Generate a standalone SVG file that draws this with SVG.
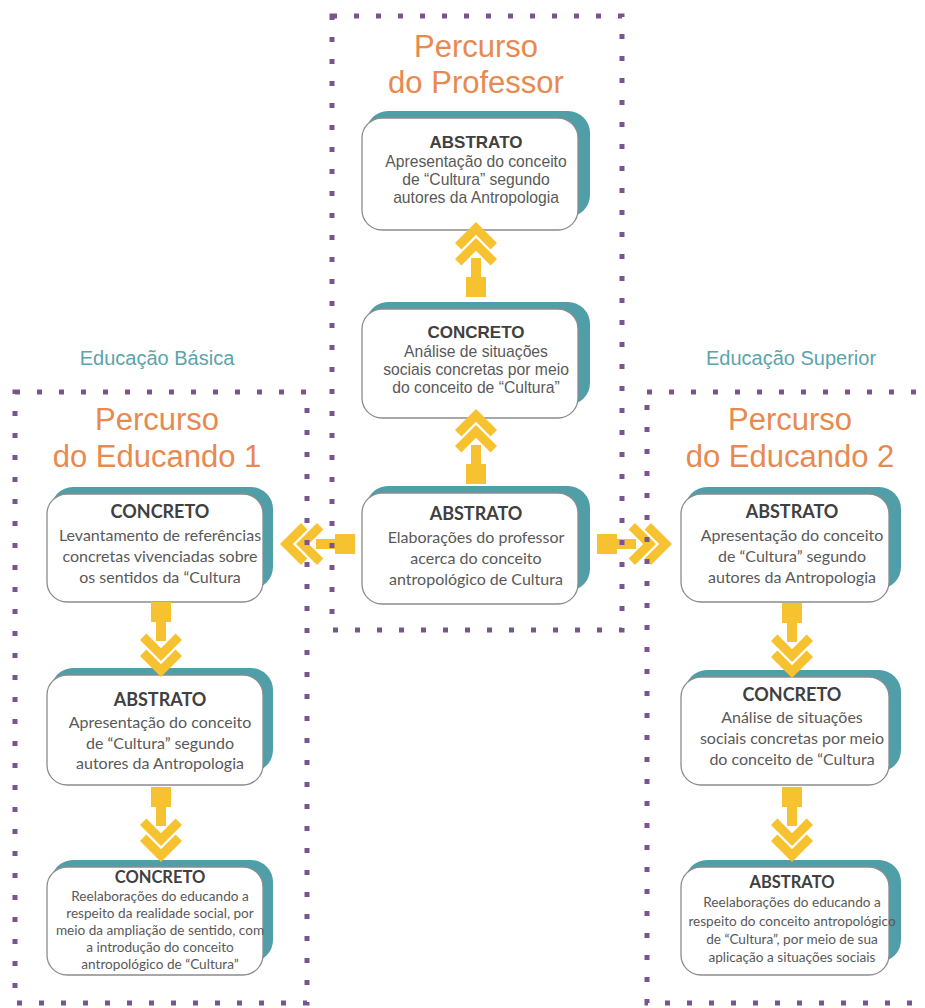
<svg xmlns="http://www.w3.org/2000/svg" xmlns:xlink="http://www.w3.org/1999/xlink" width="925" height="1008" viewBox="0 0 925 1008">
<style>
.bg{fill:#ffffff}
.teal{fill:#4f9ea8}
.card{fill:#ffffff;stroke:#8c8c8c;stroke-width:1.3}
.frame{fill:none;stroke:#7a5490;stroke-width:5;stroke-dasharray:5 17}
.title{font-family:"Liberation Sans",Arial,sans-serif;font-size:31px;fill:#e8894f;text-anchor:middle}
.label{font-family:"Liberation Sans",Arial,sans-serif;font-size:20px;fill:#5ba4ad;text-anchor:middle}
.ha{font-family:"Liberation Sans",Arial,sans-serif;font-size:17px;font-weight:bold;fill:#404040;text-anchor:middle}
.ta{font-family:"Liberation Sans",Arial,sans-serif;font-size:15.7px;fill:#595959;text-anchor:middle}
.hc{font-family:Lato,"Open Sans",sans-serif;font-size:18px;font-weight:bold;fill:#404040;text-anchor:middle}
.tc{font-family:Lato,"Open Sans",sans-serif;font-size:16px;fill:#595959;text-anchor:middle}
.hs{font-family:Lato,"Open Sans",sans-serif;font-size:16.5px;font-weight:bold;fill:#404040;text-anchor:middle}
.ts{font-family:Lato,"Open Sans",sans-serif;font-size:13.6px;fill:#595959;text-anchor:middle}
.arrow{fill:#f6c230}
</style>
<defs>
<g id="arr">
<polygon class="arrow" points="0,0 21,21 14.6,27.4 0,12.8 -14.6,27.4 -21,21"/>
<polygon class="arrow" points="0,16 21,37 14.6,43.4 0,28.8 -14.6,43.4 -21,37"/>
<rect class="arrow" x="-5" y="36" width="10" height="21"/>
<rect class="arrow" x="-10" y="55" width="20" height="20"/>
</g>
</defs>
<rect class="bg" x="0" y="0" width="925" height="1008"/>

<g id="titles">
<text class="title" x="476" y="57">Percurso</text>
<text class="title" x="476" y="93">do Professor</text>
<text class="title" x="157" y="430">Percurso</text>
<text class="title" x="157" y="467">do Educando 1</text>
<text class="title" x="790" y="430">Percurso</text>
<text class="title" x="790" y="467">do Educando 2</text>
<text class="label" x="157" y="365">Educação Básica</text>
<text class="label" x="791" y="365">Educação Superior</text>
</g>

<g id="node-p1">
<rect class="teal" x="366" y="111" width="224" height="106" rx="22"/>
<rect class="card" x="362" y="118" width="216" height="112" rx="20"/>
<text class="ha" x="476" y="148">ABSTRATO</text>
<text class="ta" x="476" y="167">Apresentação do conceito</text>
<text class="ta" x="476" y="185">de “Cultura” segundo</text>
<text class="ta" x="476" y="203">autores da Antropologia</text>
</g>

<g id="node-p2">
<rect class="teal" x="366" y="302" width="224" height="103" rx="22"/>
<rect class="card" x="362" y="309" width="216" height="109" rx="20"/>
<text class="ha" x="476" y="338">CONCRETO</text>
<text class="ta" x="476" y="357">Análise de situações</text>
<text class="ta" x="476" y="375">sociais concretas por meio</text>
<text class="ta" x="476" y="393">do conceito de “Cultura”</text>
</g>

<g id="node-p3">
<rect class="teal" x="366" y="486" width="224" height="105" rx="22"/>
<rect class="card" x="362" y="493" width="216" height="111" rx="20"/>
<text class="hc" x="476" y="520">ABSTRATO</text>
<text class="tc" x="476" y="543">Elaborações do professor</text>
<text class="tc" x="476" y="564">acerca do conceito</text>
<text class="tc" x="476" y="585">antropológico de Cultura</text>
</g>

<g id="node-e1a">
<rect class="teal" x="51" y="487" width="222" height="102" rx="22"/>
<rect class="card" x="47" y="494" width="216" height="108" rx="20"/>
<text class="hc" x="160" y="518">CONCRETO</text>
<text class="tc" x="160" y="541">Levantamento de referências</text>
<text class="tc" x="160" y="562">concretas vivenciadas sobre</text>
<text class="tc" x="160" y="583">os sentidos da “Cultura</text>
</g>

<g id="node-e1b">
<rect class="teal" x="51" y="668" width="222" height="104" rx="22"/>
<rect class="card" x="47" y="675" width="216" height="110" rx="20"/>
<text class="hc" x="160" y="706">ABSTRATO</text>
<text class="tc" x="160" y="728">Apresentação do conceito</text>
<text class="tc" x="160" y="749">de “Cultura” segundo</text>
<text class="tc" x="160" y="769">autores da Antropologia</text>
</g>

<g id="node-e1c">
<rect class="teal" x="51" y="860" width="222" height="102" rx="22"/>
<rect class="card" x="47" y="867" width="216" height="108" rx="20"/>
<text class="hs" x="160" y="883">CONCRETO</text>
<text class="ts" x="160" y="901">Reelaborações do educando a</text>
<text class="ts" x="160" y="918">respeito da realidade social, por</text>
<text class="ts" x="160" y="935">meio da ampliação de sentido, com</text>
<text class="ts" x="160" y="952">a introdução do conceito</text>
<text class="ts" x="160" y="969">antropológico de “Cultura”</text>
</g>

<g id="node-e2a">
<rect class="teal" x="685" y="487" width="216" height="102" rx="22"/>
<rect class="card" x="681" y="494" width="208" height="108" rx="20"/>
<text class="hc" x="792" y="518">ABSTRATO</text>
<text class="tc" x="792" y="541">Apresentação do conceito</text>
<text class="tc" x="792" y="562">de “Cultura” segundo</text>
<text class="tc" x="792" y="583">autores da Antropologia</text>
</g>

<g id="node-e2b">
<rect class="teal" x="685" y="670" width="216" height="102" rx="22"/>
<rect class="card" x="681" y="677" width="208" height="108" rx="20"/>
<text class="hc" x="792" y="701">CONCRETO</text>
<text class="tc" x="792" y="723">Análise de situações</text>
<text class="tc" x="792" y="744">sociais concretas por meio</text>
<text class="tc" x="792" y="765">do conceito de “Cultura</text>
</g>

<g id="node-e2c">
<rect class="teal" x="685" y="860" width="216" height="102" rx="22"/>
<rect class="card" x="681" y="867" width="208" height="108" rx="20"/>
<text class="hs" x="792" y="888">ABSTRATO</text>
<text class="ts" x="792" y="907">Reelaborações do educando a</text>
<text class="ts" x="792" y="926">respeito do conceito antropológico</text>
<text class="ts" x="792" y="944">de “Cultura”, por meio de sua</text>
<text class="ts" x="792" y="962">aplicação a situações sociais</text>
</g>

<g id="connectors">
<use xlink:href="#arr" href="#arr" transform="translate(476,222)"/>
<use xlink:href="#arr" href="#arr" transform="translate(476,409)"/>
<use xlink:href="#arr" href="#arr" transform="translate(280,544) rotate(-90)"/>
<use xlink:href="#arr" href="#arr" transform="translate(672,544) rotate(90)"/>
<use xlink:href="#arr" href="#arr" transform="translate(161,677) rotate(180)"/>
<use xlink:href="#arr" href="#arr" transform="translate(161,862) rotate(180)"/>
<use xlink:href="#arr" href="#arr" transform="translate(792,678) rotate(180)"/>
<use xlink:href="#arr" href="#arr" transform="translate(792,862) rotate(180)"/>
</g>

<g id="frames">
<rect class="frame" x="332" y="16" width="290" height="614"/>
<rect class="frame" x="15" y="392" width="292" height="611"/>
<rect class="frame" x="647" y="392" width="300" height="611"/>
</g>
</svg>
